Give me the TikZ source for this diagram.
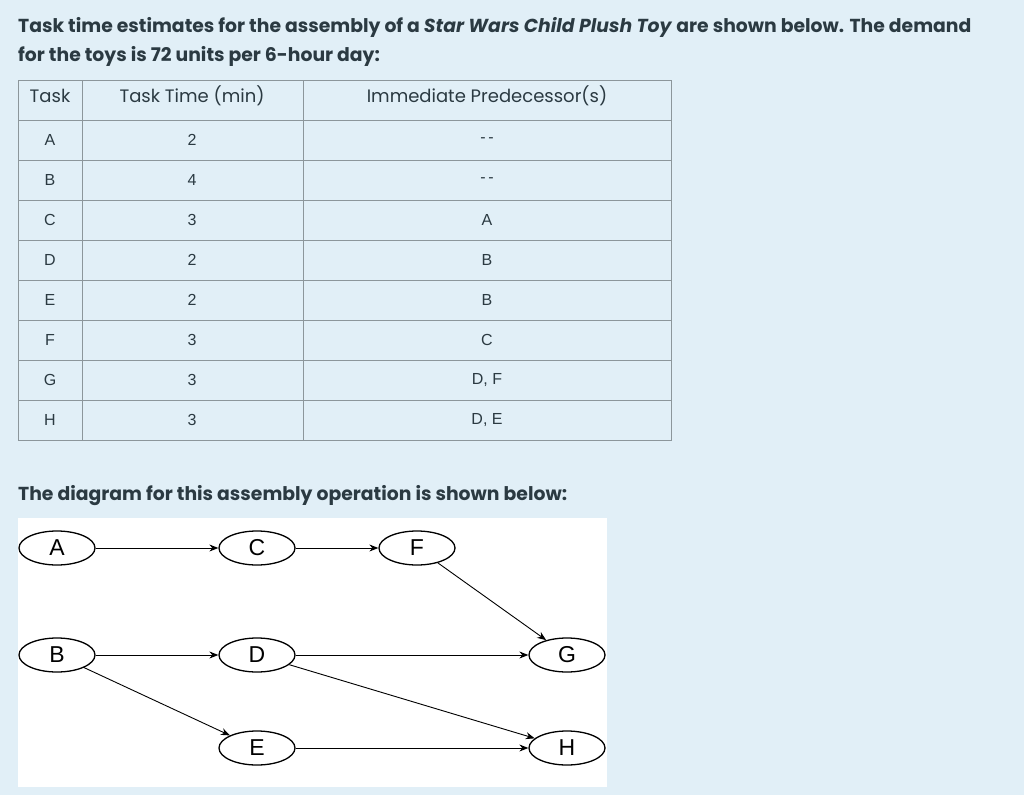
\documentclass[tikz,border=0pt]{standalone}
\usepackage{fontspec}
\setmainfont{Poppins}
\newfontfamily\arial{Liberation Sans}
\usetikzlibrary{shapes.geometric,arrows.meta}
\definecolor{bg}{HTML}{E1EFF7}
\definecolor{tx}{HTML}{2B3A42}
\definecolor{grid}{HTML}{8C969B}
\tikzset{
  ell/.style={ellipse,draw=black,line width=1.3pt,fill=white,minimum width=76pt,minimum height=34pt,inner sep=0pt,font=\arial\fontsize{23}{23}\selectfont},
  arr/.style={-{Stealth[length=9pt,width=7pt]},line width=0.9pt},
  cell/.style={font=\arial\fontsize{16}{17}\selectfont,text=tx},
  hd/.style={font=\fontsize{18}{19}\selectfont,text=tx},
  ttl/.style={anchor=base west,font=\fontsize{18.8}{19}\selectfont\bfseries,text=tx,inner sep=0}
}
\begin{document}
\begin{tikzpicture}[x=1pt,y=-1pt]
\fill[bg] (0,0) rectangle (1024,795);
\node[ttl] (t1) at (18,32) {Task time estimates for the assembly of a \textit{Star Wars Child Plush Toy} are shown below. The demand};
\node[ttl] (t2) at (18,61) {for the toys is 72 units per 6-hour day:};
% table
\draw[grid,line width=0.9pt] (18,80) rectangle (671,440);
\foreach \y in {120,160,...,400} \draw[grid,line width=0.9pt] (18,\y) -- (671,\y);
\draw[grid,line width=0.9pt] (82,80) -- (82,440);
\draw[grid,line width=0.9pt] (303,80) -- (303,440);
\node[hd] (h1) at (50,96) {Task};
\node[hd] (h2) at (192,96) {Task Time (min)};
\node[hd] (h3) at (487,96) {Immediate Predecessor(s)};
\foreach \t/\m/\p [count=\i] in {A/2/-\,-,B/4/-\,-,C/3/A,D/2/B,E/2/B,F/3/C,G/3/{D, F},H/3/{D, E}}{
  \node[cell] (c\i a) at (50,100+40*\i) {\t};
  \node[cell] (c\i b) at (192,100+40*\i) {\m};
  \node[cell] (c\i c) at (487,100+40*\i) {\p};
}
\node[ttl] (t3) at (18,500) {The diagram for this assembly operation is shown below:};
% diagram
\fill[white] (18,518) rectangle (607,787);
\node[ell] (A) at (57,548) {A};
\node[ell] (C) at (257,548) {C};
\node[ell] (F) at (417,548) {F};
\node[ell] (B) at (57,655) {B};
\node[ell] (D) at (257,655) {D};
\node[ell] (G) at (567,655) {G};
\node[ell] (E) at (257,748) {E};
\node[ell] (H) at (567,748) {H};
\draw[arr] (A) -- (C);
\draw[arr] (C) -- (F);
\draw[arr] (F) -- (G);
\draw[arr] (B) -- (D);
\draw[arr] (B) -- (E);
\draw[arr] (D) -- (G);
\draw[arr] (D) -- (H);
\draw[arr] (E) -- (H);
\end{tikzpicture}
\end{document}
